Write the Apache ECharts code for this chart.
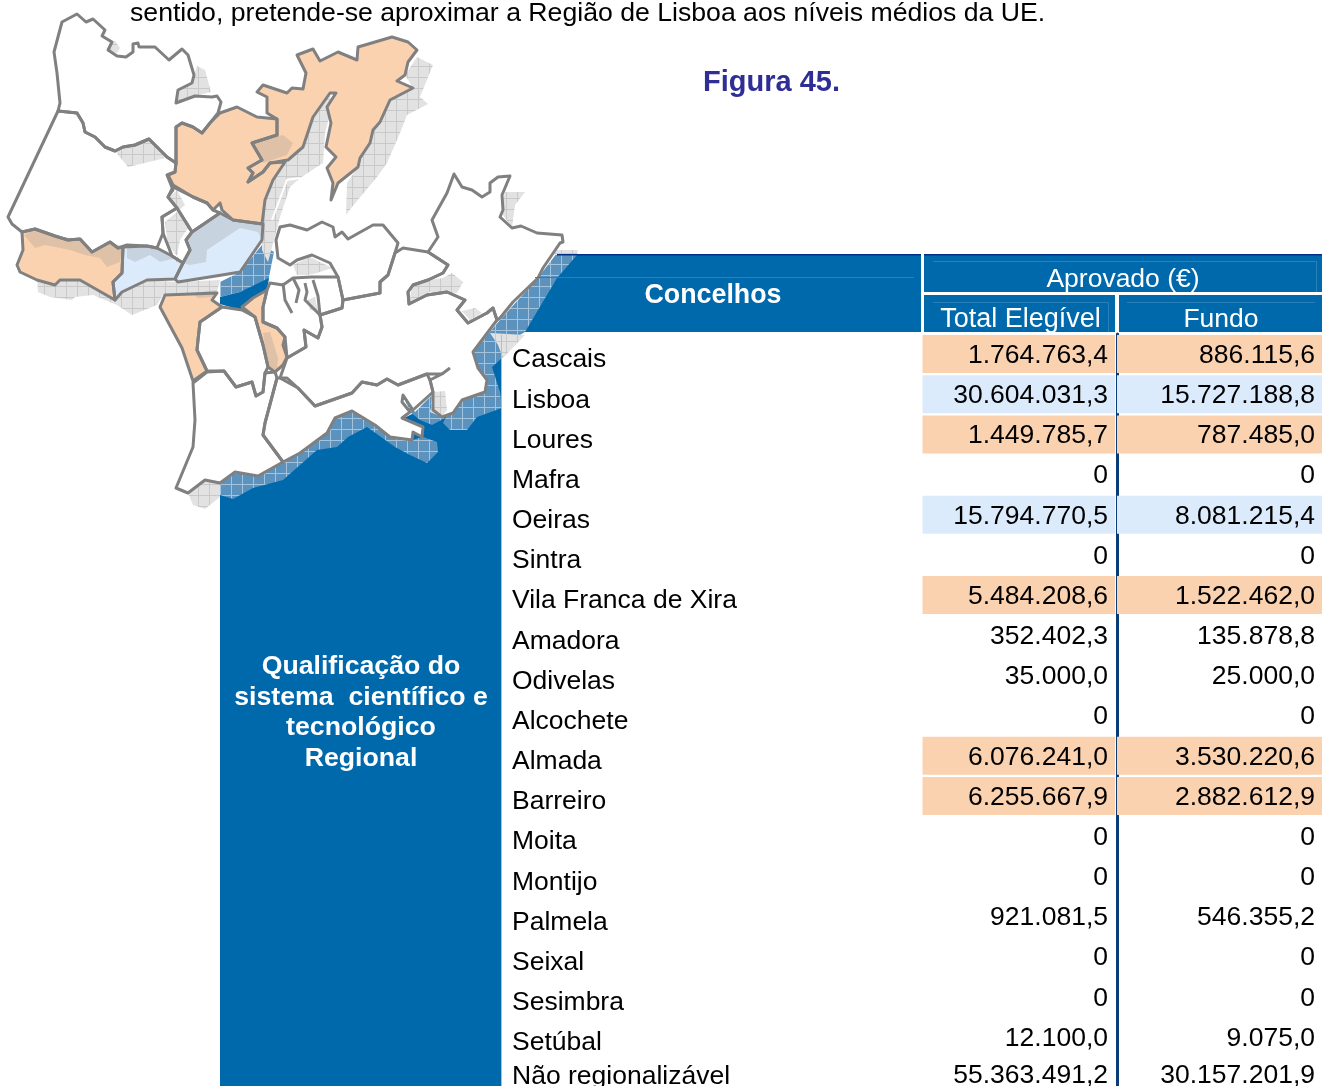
<!DOCTYPE html>
<html>
<head>
<meta charset="utf-8">
<style>
  html, body { margin: 0; padding: 0; background: #fff; }
  #chart { width: 1322px; height: 1086px; }
</style>
<script src="https://cdn.jsdelivr.net/npm/echarts@6/dist/echarts.min.js"></script>
</head>
<body>
<div id="chart"></div>
<script>
const concelhos = ['Cascais', 'Lisboa', 'Loures', 'Mafra', 'Oeiras', 'Sintra', 'Vila Franca de Xira', 'Amadora', 'Odivelas', 'Alcochete', 'Almada', 'Barreiro', 'Moita', 'Montijo', 'Palmela', 'Seixal', 'Sesimbra', 'Setúbal', 'Não regionalizável']
const totalElegivel = [1764763.4, 30604031.3, 1449785.7, 0, 15794770.5, 0, 5484208.6, 352402.3, 35000, 0, 6076241, 6255667.9, 0, 0, 921081.5, 0, 0, 12100, 55363491.2]
const fundo = [886115.6, 15727188.8, 787485, 0, 8081215.4, 0, 1522462, 135878.8, 25000, 0, 3530220.6, 2882612.9, 0, 0, 546355.2, 0, 0, 9075, 30157201.9]
const classeLinha = ['medio', 'alto', 'medio', '', 'alto', '', 'medio', '', '', '', 'medio', 'medio', '', '', '', '', '', '', '']

// contornos do mapa, em coordenadas da pagina
const oceano = [[[220, 1100], [220, 480], [300, 440], [340, 420], [400, 420], [440, 400], [500, 330], [557, 254], [1322, 254], [1322, 332], [501, 332], [501, 1100]]]
const faixaAzul = [
  [[220, 483], [220, 495], [233, 499], [253, 488], [283, 480], [317, 450], [337, 447], [348, 437], [367, 427], [395, 447], [410, 455], [427, 463], [438, 452], [437, 442], [423, 437], [412, 440], [390, 437], [375, 425], [352, 411], [335, 418], [327, 433], [300, 453], [283, 462], [258, 476], [235, 472]],
  [[447, 415], [443, 423], [450, 430], [467, 430], [477, 417], [502, 408], [500, 392], [492, 367], [502, 358], [520, 335], [525, 332], [557, 278], [577, 255], [557, 253], [538, 278], [500, 320], [473, 352], [480, 380]],
  [[404, 398], [415, 412], [432, 395], [430, 410], [445, 418], [432, 425], [420, 420], [410, 412]],
  [[220, 282], [240, 272], [262, 245], [274, 252], [268, 282], [240, 292], [220, 297]]
]
const agua = [
  [[220, 297], [220, 304], [240, 310], [267, 290], [269, 278], [240, 292]],
  [[242, 310], [252, 312], [248, 304]]
]
const faixaCinza = [
  [[112, 42], [115, 41], [120, 48], [117, 53], [108, 50]],
  [[197, 66], [205, 70], [211, 92], [195, 96], [176, 103], [178, 90], [192, 83], [194, 75]],
  [[80, 117], [73, 127], [83, 127]],
  [[417, 57], [433, 65], [420, 97], [428, 104], [407, 115], [400, 133], [387, 163], [377, 177], [352, 207], [346, 215], [347, 183], [358, 167], [373, 130], [390, 100], [413, 88], [405, 75]],
  [[330, 95], [313, 117], [303, 147], [288, 160], [273, 180], [265, 200], [262, 224], [262, 250], [268, 262], [280, 217], [290, 187], [300, 178], [323, 163], [325, 133], [331, 110]],
  [[37, 280], [38, 292], [50, 297], [72, 300], [75, 297], [93, 295], [117, 305], [132, 315], [157, 305], [163, 295], [217, 292], [220, 280], [177, 282], [147, 280], [122, 292], [115, 300], [80, 280], [60, 280]],
  [[220, 483], [205, 480], [188, 493], [193, 505], [205, 509], [220, 497]],
  [[505, 192], [525, 192], [515, 205], [512, 228], [503, 215], [503, 200]],
  [[553, 250], [578, 250], [577, 255], [555, 255]],
  [[490, 333], [525, 335], [503, 358], [498, 345]],
  [[200, 322], [222, 307], [240, 310], [235, 320], [218, 340], [215, 360], [207, 371], [197, 350]]
]
const terraBranca = [
  [[62, 22], [77, 14], [86, 22], [93, 19], [105, 30], [102, 36], [112, 42], [108, 50], [117, 56], [126, 57], [133, 52], [133, 44], [138, 43], [139, 47], [155, 47], [169, 60], [182, 49], [188, 55], [194, 75], [192, 83], [178, 90], [176, 103], [195, 96], [212, 97], [217, 96], [221, 102], [218, 113], [210, 123], [202, 133], [193, 127], [182, 123], [176, 127], [176, 163], [167, 157], [160, 150], [149, 139], [135, 145], [123, 147], [115, 151], [105, 147], [95, 137], [85, 132], [83, 123], [77, 113], [58, 111], [60, 103], [57, 73], [54, 52]],
  [[58, 111], [77, 113], [83, 123], [85, 132], [95, 137], [105, 147], [115, 151], [123, 147], [135, 145], [149, 139], [160, 150], [167, 157], [176, 163], [175, 172], [167, 175], [173, 190], [168, 197], [177, 208], [162, 217], [163, 233], [157, 248], [147, 246], [127, 245], [118, 248], [110, 242], [92, 252], [80, 239], [68, 240], [55, 236], [35, 229], [22, 232], [12, 224], [8, 217]],
  [[173, 187], [168, 197], [177, 208], [192, 232], [220, 213], [213, 210], [207, 203], [193, 197]],
  [[177, 208], [162, 217], [163, 233], [172, 256], [183, 263], [190, 250], [186, 240], [192, 232]],
  [[432, 220], [447, 193], [454, 174], [462, 187], [472, 190], [482, 197], [490, 192], [490, 183], [498, 177], [510, 176], [502, 195], [503, 210], [500, 217], [512, 228], [521, 226], [537, 233], [562, 235], [563, 242], [560, 243], [543, 268], [538, 278], [513, 302], [500, 318], [497, 320], [493, 308], [487, 313], [468, 323], [457, 310], [465, 300], [447, 292], [427, 295], [409, 304], [408, 292], [413, 285], [428, 280], [443, 273], [448, 265], [428, 252], [438, 237]],
  [[403, 248], [428, 252], [448, 265], [443, 273], [428, 280], [413, 285], [408, 292], [409, 304], [427, 295], [447, 292], [465, 300], [457, 310], [468, 323], [487, 313], [493, 308], [497, 320], [473, 352], [478, 368], [487, 380], [485, 392], [462, 400], [453, 413], [442, 417], [433, 410], [433, 392], [430, 380], [442, 374], [427, 374], [398, 385], [387, 379], [377, 385], [362, 382], [352, 393], [315, 406], [298, 388], [280, 378], [287, 358], [306, 347], [304, 330], [318, 338], [322, 327], [320, 315], [342, 308], [343, 300], [380, 293], [380, 282], [388, 275], [395, 253]],
  [[193, 383], [207, 372], [224, 371], [236, 387], [252, 382], [256, 396], [263, 392], [265, 373], [275, 372], [277, 378], [265, 423], [263, 435], [283, 462], [258, 476], [235, 472], [220, 483], [205, 480], [188, 493], [176, 488], [193, 447], [195, 420]],
  [[277, 378], [287, 378], [298, 388], [315, 406], [352, 393], [362, 382], [377, 385], [387, 379], [398, 385], [427, 374], [430, 380], [433, 392], [413, 410], [403, 395], [402, 402], [410, 412], [402, 418], [423, 427], [422, 437], [413, 432], [412, 440], [390, 437], [375, 425], [352, 411], [335, 418], [327, 433], [300, 453], [283, 462], [263, 435], [265, 423]],
  [[280, 227], [276, 240], [278, 258], [290, 265], [297, 260], [312, 255], [330, 263], [338, 277], [343, 300], [380, 293], [380, 282], [388, 275], [395, 253], [398, 243], [383, 225], [373, 225], [348, 239], [342, 232], [335, 237], [333, 227], [322, 222], [307, 230], [290, 225]],
  [[270, 283], [283, 285], [293, 278], [312, 277], [338, 277], [343, 300], [342, 308], [320, 315], [322, 327], [318, 338], [304, 330], [306, 347], [287, 358], [285, 337], [277, 328], [263, 322], [263, 307], [267, 290]],
  [[200, 322], [222, 307], [242, 310], [255, 317], [263, 345], [268, 367], [265, 373], [263, 392], [256, 396], [252, 382], [236, 387], [224, 371], [207, 371], [197, 350], [198, 340]]
]
const terraLaranja = [
  [[176, 127], [182, 123], [193, 127], [202, 133], [210, 123], [220, 113], [237, 107], [257, 117], [277, 119], [277, 135], [252, 143], [262, 160], [248, 168], [253, 173], [248, 182], [263, 172], [270, 163], [285, 162], [273, 180], [265, 200], [262, 224], [233, 220], [222, 210], [220, 203], [213, 210], [207, 203], [193, 197], [173, 185], [168, 175], [175, 172], [176, 163]],
  [[257, 92], [263, 85], [287, 93], [292, 88], [303, 89], [306, 73], [297, 55], [313, 49], [320, 61], [338, 52], [357, 60], [358, 47], [392, 37], [408, 42], [417, 50], [408, 62], [405, 75], [397, 81], [413, 88], [390, 100], [380, 122], [373, 130], [370, 143], [360, 158], [358, 167], [338, 183], [331, 200], [333, 183], [327, 168], [336, 157], [326, 147], [331, 123], [327, 107], [336, 93], [330, 93], [313, 117], [303, 147], [288, 160], [270, 163], [263, 172], [248, 182], [253, 173], [248, 168], [262, 160], [252, 143], [277, 135], [277, 119], [267, 113], [267, 97]],
  [[22, 232], [35, 229], [55, 236], [68, 240], [80, 239], [92, 252], [110, 242], [118, 248], [123, 247], [122, 273], [113, 282], [115, 300], [80, 280], [60, 280], [55, 285], [37, 280], [20, 272], [17, 265], [23, 250]],
  [[165, 295], [217, 293], [212, 300], [222, 307], [200, 322], [198, 340], [197, 350], [207, 371], [193, 381], [182, 348], [160, 307]],
  [[267, 290], [263, 307], [263, 322], [277, 328], [285, 337], [283, 345], [287, 357], [283, 365], [275, 372], [268, 367], [263, 345], [255, 317], [242, 307], [253, 298]]
]
const terraAzul = [
  [[123, 247], [147, 246], [157, 248], [172, 256], [183, 263], [175, 279], [147, 280], [122, 292], [115, 300], [113, 282], [122, 273]],
  [[192, 232], [220, 213], [233, 220], [263, 224], [262, 240], [240, 272], [222, 275], [178, 282], [175, 279], [183, 263], [190, 250], [186, 240]]
]
const sombras = [
  [[252, 143], [283, 135], [293, 143], [287, 155], [263, 163], [258, 157]],
  [[24, 235], [35, 248], [45, 245], [70, 250], [85, 255], [100, 258], [107, 267], [120, 262], [123, 247], [110, 242], [92, 252], [80, 239], [55, 236], [35, 229]],
  [[192, 232], [220, 213], [233, 220], [262, 224], [262, 240], [258, 232], [240, 228], [207, 250], [206, 262], [190, 265], [183, 263], [190, 250], [186, 240]],
  [[127, 247], [157, 248], [176, 258], [160, 262], [150, 255], [135, 262], [127, 258]],
  [[192, 293], [198, 298], [212, 297], [217, 290]],
  [[263, 333], [270, 332], [278, 358], [277, 370], [268, 367]]
]
const manchasTerra = [
  [[115, 151], [128, 167], [157, 160], [165, 158], [149, 139], [135, 145]],
  [[293, 265], [310, 257], [332, 268], [317, 273], [308, 275], [297, 275]],
  [[308, 300], [315, 297], [318, 312], [310, 310]],
  [[443, 278], [452, 273], [463, 282], [457, 293], [430, 292], [413, 302], [409, 303], [412, 287], [428, 280]],
  [[462, 311], [475, 308], [482, 313], [470, 320]],
  [[433, 392], [445, 391], [447, 410], [442, 417], [430, 412]],
  [[177, 190], [170, 197], [177, 207], [190, 225], [180, 240], [176, 262], [183, 263], [168, 245], [165, 222], [185, 205]]
]
const linhasInteriores = [
  [[283, 283], [285, 300], [292, 313]],
  [[293, 278], [299, 290], [296, 303]],
  [[305, 283], [307, 292], [305, 300], [320, 315]],
  [[313, 280], [318, 296], [320, 315]],
  [[442, 374], [450, 368]]
]
const linhaBranca = [[[272, 220], [287, 180], [300, 178]]]

const CORES_CLASSE = { medio: '#FBD2AF', alto: '#DCEBFC' }
const AZUL = '#0069AC'
const FONTE = '"Liberation Sans", Arial, sans-serif'
const TAM_LINHA = 40.17

const formatar = (v) => (v === 0 ? '0' : v.toLocaleString('de-DE', { minimumFractionDigits: 1, maximumFractionDigits: 1 }))

const padraoQuadricula = (base, linha) => {
  const c = document.createElement('canvas')
  c.width = 11
  c.height = 11
  const ctx = c.getContext('2d')
  ctx.fillStyle = base
  ctx.fillRect(0, 0, 11, 11)
  ctx.fillStyle = linha
  ctx.fillRect(0, 0, 11, 1)
  ctx.fillRect(0, 0, 1, 11)
  return { image: c, repeat: 'repeat' }
}

const camada = (polys, estilo, fechado = true) => ({
  type: 'custom',
  xAxisIndex: 0,
  yAxisIndex: 0,
  silent: true,
  clip: false,
  data: polys.map((_, i) => [i]),
  encode: { x: 0, y: 0 },
  renderItem: (params, api) => ({
    type: fechado ? 'polygon' : 'polyline',
    shape: { points: polys[params.dataIndex].map((p) => api.coord(p)) },
    style: estilo
  })
})

const colunaBarras = (valores, eixo) => ({
  type: 'bar',
  xAxisIndex: eixo,
  yAxisIndex: eixo,
  barWidth: 38,
  silent: true,
  data: valores.map((v, i) => ({
    value: 1,
    itemStyle: { color: CORES_CLASSE[classeLinha[i]] || 'rgba(255,255,255,0)' },
    label: {
      formatter: formatar(v),
      offset: [0, i === valores.length - 1 ? -1 : 1.5]
    }
  })),
  label: {
    show: true,
    position: 'insideRight',
    distance: 7,
    color: '#000',
    fontFamily: FONTE,
    fontSize: 26.5
  }
})

const texto = (text, x, y, extra = {}) => ({
  type: 'text',
  z: 60,
  silent: true,
  style: {
    text,
    x,
    y: y + 2,
    fill: '#fff',
    font: `26.5px ${FONTE}`,
    textAlign: 'center',
    textVerticalAlign: 'middle',
    ...extra
  }
})

const retangulo = (x, y, width, height, fill) => ({
  type: 'rect',
  z: 55,
  silent: true,
  shape: { x, y, width, height },
  style: { fill }
})

const contorno = { fill: 'none', stroke: '#808080', lineWidth: 3, lineJoin: 'round' }
const hachuraAzul = padraoQuadricula('#5B93BE', '#A4C3DC')
const hachuraCinza = padraoQuadricula('#E2E2E2', '#C9C9C9')
const todasTerras = [...terraBranca, ...terraLaranja, ...terraAzul]

const chart = echarts.init(document.getElementById('chart'))
chart.setOption({
  animation: false,
  grid: [
    { left: 0, top: 0, width: 1322, height: 1086, outerBoundsMode: 'none' },
    { left: 922.5, top: 334, width: 192.5, height: TAM_LINHA * concelhos.length, outerBoundsMode: 'none' },
    { left: 1117, top: 334, width: 205, height: TAM_LINHA * concelhos.length, outerBoundsMode: 'none' }
  ],
  xAxis: [
    { type: 'value', gridIndex: 0, min: 0, max: 1322, show: false },
    { type: 'value', gridIndex: 1, min: 0, max: 1, show: false },
    { type: 'value', gridIndex: 2, min: 0, max: 1, show: false }
  ],
  yAxis: [
    { type: 'value', gridIndex: 0, min: 0, max: 1086, inverse: true, show: false },
    {
      type: 'category',
      gridIndex: 1,
      inverse: true,
      data: concelhos.map((nome, i) => ({
        value: nome,
        textStyle: {
          align: 'left',
          verticalAlign: i === concelhos.length - 1 ? 'middle' : 'top',
          lineHeight: 12
        }
      })),
      axisLine: { show: false },
      axisTick: { show: false },
      axisLabel: {
        interval: 0,
        align: 'left',
        margin: 410.5,
        color: '#000',
        fontFamily: FONTE,
        fontSize: 26.5
      }
    },
    {
      type: 'category',
      gridIndex: 2,
      inverse: true,
      data: concelhos,
      axisLine: { show: true, lineStyle: { color: '#0A3C78', width: 3 } },
      axisTick: { show: false },
      axisLabel: { show: false }
    }
  ],
  series: [
    camada(oceano, { fill: AZUL }),
    camada(faixaAzul, { fill: hachuraAzul }),
    camada(agua, { fill: AZUL }),
    camada(faixaCinza, { fill: hachuraCinza }),
    camada(terraBranca, { fill: '#fff' }),
    camada(terraLaranja, { fill: CORES_CLASSE.medio }),
    camada(terraAzul, { fill: CORES_CLASSE.alto }),
    camada(sombras, { fill: 'rgba(150,150,150,0.28)' }),
    camada(manchasTerra, { fill: hachuraCinza }),
    camada(linhaBranca, { fill: 'none', stroke: '#fff', lineWidth: 2 }, false),
    camada(todasTerras, contorno),
    camada(linhasInteriores, contorno, false),
    colunaBarras(totalElegivel, 1),
    colunaBarras(fundo, 2)
  ],
  graphic: { elements: [
    retangulo(557, 254, 765, 1.5, '#00308A'),
    retangulo(921, 254, 3, 78, '#fff'),
    retangulo(924, 292, 398, 3, '#fff'),
    retangulo(1115, 295, 4, 37, '#fff'),
    retangulo(501, 335, 1, 752, '#9CC4E0'),
    retangulo(535, 277, 379, 1, '#2C80B8'),
    retangulo(933, 261, 383, 1, '#2C80B8'),
    retangulo(1316, 261, 1, 31, '#2C80B8'),
    retangulo(933, 302, 175, 1, '#2C80B8'),
    retangulo(1108, 302, 1, 30, '#2C80B8'),
    retangulo(1127, 302, 188, 1, '#2C80B8'),
    texto('sentido, pretende-se aproximar a Região de Lisboa aos níveis médios da UE.', 130, 12, { fill: '#000', textAlign: 'left', font: `26.65px ${FONTE}` }),
    texto('Figura 45.', 771.5, 81, { fill: '#2E2E96', font: `bold 29px ${FONTE}` }),
    texto('Concelhos', 713, 294, { font: `bold 26.8px ${FONTE}` }),
    texto('Aprovado (€)', 1123, 278),
    texto('Total Elegível', 1020.5, 318, { font: `27px ${FONTE}` }),
    texto('Fundo', 1221, 318),
    texto('Qualificação do', 361, 665, { font: `bold 26.7px ${FONTE}` }),
    texto('sistema  científico e', 361, 696, { font: `bold 26.7px ${FONTE}` }),
    texto('tecnológico', 361, 726, { font: `bold 26.7px ${FONTE}` }),
    texto('Regional', 361, 757, { font: `bold 26.7px ${FONTE}` })
  ] }
})
</script>
</body>
</html>
